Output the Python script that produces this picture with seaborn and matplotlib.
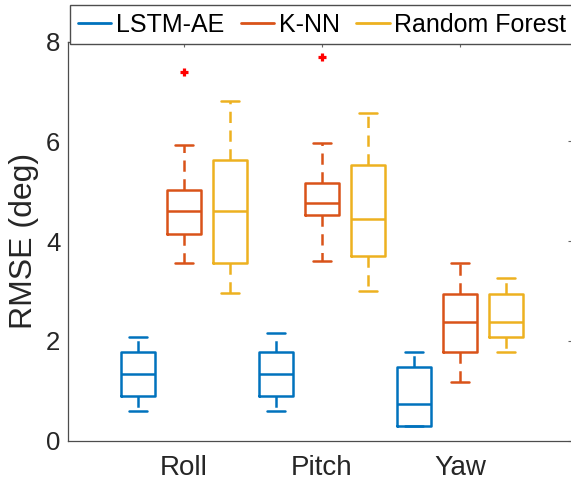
import numpy as np
import pandas as pd
import matplotlib
matplotlib.use("Agg")
import matplotlib.pyplot as plt
from matplotlib.lines import Line2D
import seaborn as sns

# ---- data (five-number summaries: min, q1, median, q3, max) ----
categories = ["Roll", "Pitch", "Yaw"]
methods = ["LSTM-AE", "K-NN", "Random Forest"]
lstm_ae = [[0.60, 0.90, 1.33, 1.78, 2.07],
           [0.60, 0.90, 1.33, 1.78, 2.16],
           [0.30, 0.30, 0.74, 1.48, 1.78]]
knn = [[3.56, 4.15, 4.60, 5.03, 5.93],
       [3.61, 4.52, 4.77, 5.16, 5.96],
       [1.18, 1.78, 2.37, 2.95, 3.56]]
random_forest = [[2.96, 3.56, 4.60, 5.63, 6.82],
                 [3.00, 3.70, 4.44, 5.53, 6.58],
                 [1.78, 2.08, 2.37, 2.95, 3.26]]
knn_outlier_cats = ["Roll", "Pitch"]
knn_outliers = [7.40, 7.70]
yticks = [0, 2, 4, 6, 8]

colors = {"LSTM-AE": "#0072BD", "K-NN": "#D95319", "Random Forest": "#EDB120"}

rows = []
for m, series in zip(methods, [lstm_ae, knn, random_forest]):
    for c, vals in zip(categories, series):
        for v in vals:
            rows.append({"axis": c, "method": m, "value": v})
df = pd.DataFrame(rows)

sns.set_style("white")
plt.rcParams["font.family"] = ["Liberation Sans", "DejaVu Sans"]

fig = plt.figure(figsize=(5.71, 4.84), dpi=100)
x0, x1 = 68.0, 573.0
ax = fig.add_axes([x0 / 571, (484 - 440.7) / 484, (x1 - x0) / 571, (440.7 - 41.7) / 484])

sns.boxplot(data=df, x="axis", y="value", hue="method", order=categories,
            hue_order=methods, palette=colors, fill=False, width=1.0, gap=0.24,
            whis=(0, 100), showfliers=False, linewidth=1.8, legend=False,
            whiskerprops=dict(linestyle=(0, (4.5, 3))), ax=ax)

# outliers (K-NN is the middle hue -> centred on category)
pos = [categories.index(c) for c in knn_outlier_cats]
ax.plot(pos, knn_outliers, linestyle="none", marker="+", color="red",
        markersize=6, markeredgewidth=2.3, zorder=5)

ax.set_xlim(-116 / 138, (x1 - 184) / 138)
ax.set_ylim(0, 8)
ax.set_yticks(yticks)
ax.set_xticks(range(len(categories)))
ax.set_xticklabels(categories)
ax.set_xlabel("")
ax.set_ylabel("RMSE (deg)", fontsize=23, color="#262626", labelpad=5)

tc = "#262626"
ax.tick_params(axis="both", direction="in", top=True, right=True, length=3.5,
               width=0.8, color="0.4", labelcolor=tc)
ax.tick_params(axis="y", labelsize=18.5, pad=5.5)
ax.tick_params(axis="x", labelsize=20, pad=10)
for s in ax.spines.values():
    s.set_visible(True)
    s.set_color("0.3")
    s.set_linewidth(0.9)

handles = [Line2D([], [], color=colors[m], lw=2) for m in methods]
leg = ax.legend(handles, methods, ncol=3, loc="upper left",
                bbox_to_anchor=(70 / 571, 1 - 5 / 484), bbox_transform=fig.transFigure,
                frameon=True, fancybox=False, edgecolor="0.3", framealpha=1,
                handlelength=1.35, handletextpad=0.18, columnspacing=0.66,
                borderpad=0.3, borderaxespad=0, fontsize=18)
leg.get_frame().set_linewidth(1.0)
for t in leg.get_texts():
    t.set_color("black")

fig.savefig("out.png", dpi=100)
